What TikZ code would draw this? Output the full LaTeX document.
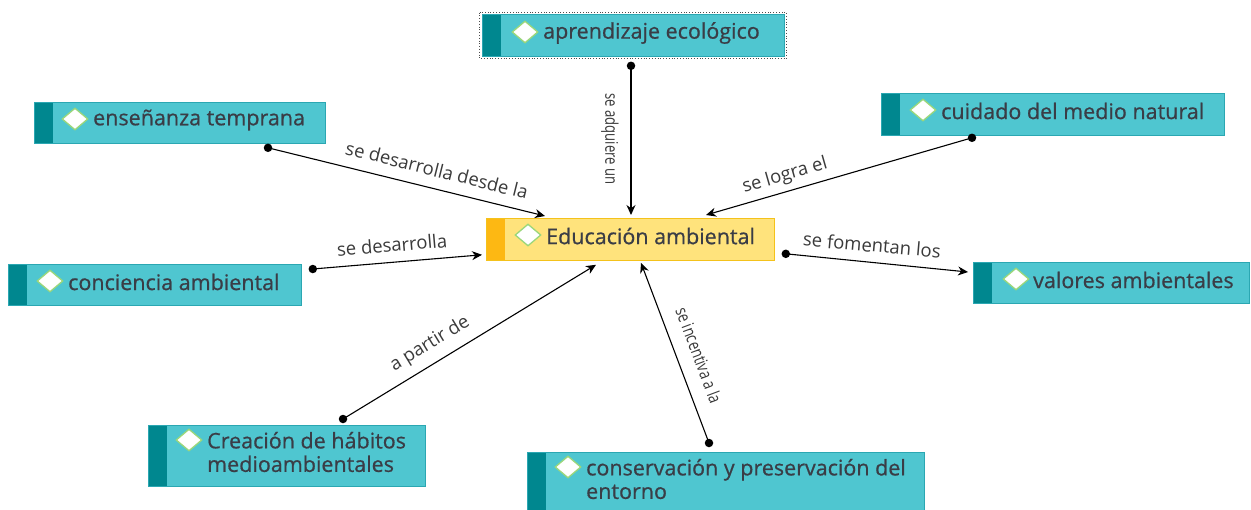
\documentclass[tikz,border=0pt]{standalone}
\usepackage{fontspec}
\setmainfont{Open Sans}
\newfontfamily\boxfont[FakeBold=0.7]{Open Sans}
\usetikzlibrary{calc,arrows.meta,shapes.geometric}
\definecolor{boxfill}{HTML}{4FC6D0}
\definecolor{boxline}{HTML}{2BA7B2}
\definecolor{stripe}{HTML}{00878F}
\definecolor{edfill}{HTML}{FFE37C}
\definecolor{edline}{HTML}{F4C21B}
\definecolor{edstripe}{HTML}{FDB813}
\definecolor{txt}{HTML}{3A3D46}
\definecolor{lbltxt}{HTML}{3A3A3A}
\definecolor{diaml}{HTML}{9BD77A}
\tikzset{
  cbox/.style={draw=boxline, fill=boxfill, line width=0.8pt, anchor=north west, inner sep=0pt,
    path picture={\fill[stripe] (path picture bounding box.north west) rectangle ([xshift=19pt]path picture bounding box.south west);}},
  edbox/.style={draw=edline, fill=edfill, line width=0.8pt, anchor=north west, inner sep=0pt,
    path picture={\fill[edstripe] (path picture bounding box.north west) rectangle ([xshift=19pt]path picture bounding box.south west);}},
  diam/.style={diamond, draw=diaml, fill=white, line width=1.3pt, minimum width=26pt, minimum height=22pt, inner sep=0pt},
  btxt/.style={anchor=west, inner sep=0pt, text=txt, font=\boxfont\fontsize{21.5}{23.5}\selectfont, align=left},
  lbl/.style={inner sep=0pt, text=lbltxt, font=\fontsize{18.5}{20}\selectfont},
  vlbl/.style={inner sep=0pt, text=lbltxt, font=\fontsize{17.5}{20}\selectfont},
  conn/.style={line width=1.1pt, -{Stealth[length=10pt,width=9pt]}},
  dot/.style={circle, fill=black, inner sep=0pt, minimum size=8.5pt},
}
\begin{document}
\begin{tikzpicture}[x=1pt,y=-1pt]
\useasboundingbox (0,0) rectangle (1251,509);
% boxes
\draw[dotted, line width=0.8pt, black!70] (479.5,12.5) rectangle (786.5,58.5);
\node[cbox, minimum width=302pt, minimum height=42pt] (A) at (482,14) {};
\node[cbox, minimum width=291pt, minimum height=41pt] (E) at (34,102) {};
\node[cbox, minimum width=343pt, minimum height=42pt] (C) at (881,93) {};
\node[edbox, minimum width=288pt, minimum height=42pt] (Ed) at (486,218) {};
\node[cbox, minimum width=293pt, minimum height=41pt] (Co) at (8,264) {};
\node[cbox, minimum width=276pt, minimum height=41pt] (V) at (973,262) {};
\node[cbox, minimum width=277pt, minimum height=61pt] (Cr) at (148,425) {};
\node[cbox, minimum width=397pt, minimum height=58pt] (Cs) at (527,452) {};
% diamonds
\node[diam] (dA) at (525,32) {};
\node[diam] (dE) at (75,119) {};
\node[diam] (dC) at (923,110) {};
\node[diam] (dEd) at (528,235) {};
\node[diam] (dCo) at (50,281) {};
\node[diam] (dV) at (1016,279) {};
\node[diam] (dCr) at (189,440) {};
\node[diam] (dCs) at (568,467) {};
% texts
\node[btxt] (tA) at (543,33) {aprendizaje ecológico};
\node[btxt] (tE) at (93,120) {enseñanza temprana};
\node[btxt] (tC) at (941,111) {cuidado del medio natural};
\node[btxt] (tEd) at (546,236) {Educación ambiental};
\node[btxt] (tCo) at (68,282) {conciencia ambiental};
\node[btxt] (tV) at (1033,280) {valores ambientales};
\node[btxt] (tCr) at (207,452) {Creación de hábitos\\medioambientales};
\node[btxt] (tCs) at (586,479) {conservación y preservación del\\entorno};
% connector endpoints
\coordinate (a1) at ($(A.south west)+(149,9)$);
\coordinate (a2) at ($(Ed.north west)+(145,-3)$);
\coordinate (e1) at ($(E.south west)+(234,4)$);
\coordinate (e2) at ($(Ed.north west)+(59,-2)$);
\coordinate (c1) at ($(C.south west)+(91,2)$);
\coordinate (c2) at ($(Ed.north west)+(220,-3)$);
\coordinate (co1) at ($(Co.north east)+(11,5)$);
\coordinate (co2) at ($(Ed.south west)+(-4,-6)$);
\coordinate (v1) at ($(Ed.south east)+(11,-7)$);
\coordinate (v2) at ($(V.north west)+(-5,10)$);
\coordinate (cr1) at ($(Cr.north west)+(195,-6)$);
\coordinate (cr2) at ($(Ed.south west)+(110,4)$);
\coordinate (cs1) at ($(Cs.north west)+(182,-9)$);
\coordinate (cs2) at ($(Ed.south west)+(155,2)$);
% connectors
\draw[conn] (a1) -- (a2);
\draw[conn] (e1) -- (e2);
\draw[conn] (c1) -- (c2);
\draw[conn] (co1) -- (co2);
\draw[conn] (v1) -- (v2);
\draw[conn] (cr1) -- (cr2);
\draw[conn] (cs1) -- (cs2);
\foreach \p in {a1,e1,c1,co1,v1,cr1,cs1} \node[dot] at (\p) {};
% labels
\node[vlbl, rotate=-90] (lA) at (610,139) {\scalebox{0.75}[1]{se adquiere un}};
\node[lbl, rotate=-14] (lE) at (437,170) {se desarrolla desde la};
\node[lbl, rotate=16] (lC) at (785,176) {se logra el};
\node[lbl, rotate=5] (lCo) at (392,245) {se desarrolla};
\node[lbl, rotate=-5] (lV) at (872,245) {se fomentan los};
\node[lbl, rotate=31.5] (lCr) at (430,344) {a partir de};
\node[vlbl, rotate=-69.4] (lCs) at (699,355) {\scalebox{0.78}[1]{se incentiva a la}};
\end{tikzpicture}
\end{document}
